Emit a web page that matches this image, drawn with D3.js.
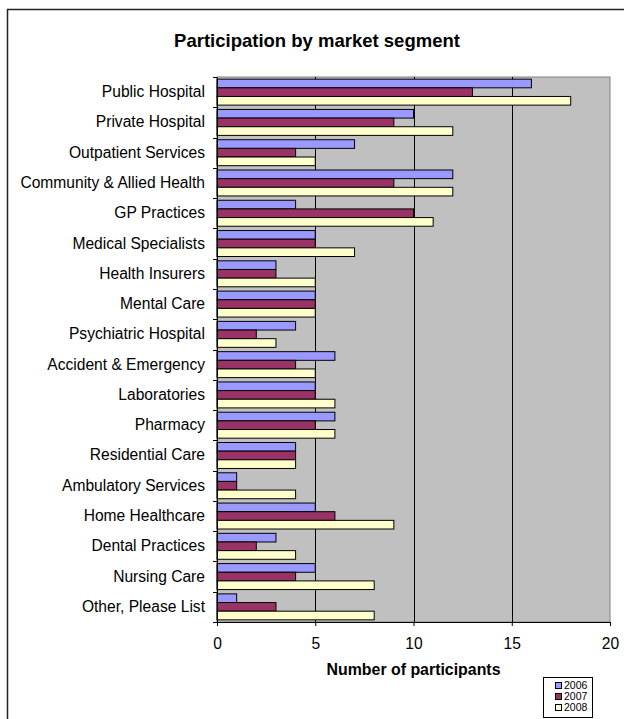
<!DOCTYPE html>
<html><head><meta charset="utf-8">
<script src="https://cdn.jsdelivr.net/npm/d3@7"></script>
<style>body{margin:0;background:#fff;}svg{display:block;font-family:"Liberation Sans",Arial,sans-serif;}</style>
</head><body>
<svg id="c" width="624" height="719"></svg>
<script>
const categories = ["Public Hospital","Private Hospital","Outpatient Services","Community & Allied Health","GP Practices","Medical Specialists","Health Insurers","Mental Care","Psychiatric Hospital","Accident & Emergency","Laboratories","Pharmacy","Residential Care","Ambulatory Services","Home Healthcare","Dental Practices","Nursing Care","Other, Please List"];
const seriesNames = ["2006","2007","2008"];
const values2006 = [16,10,7,12,4,5,3,5,4,6,5,6,4,1,5,3,5,1];
const values2007 = [13,9,4,9,10,5,3,5,2,4,5,5,4,1,6,2,4,3];
const values2008 = [18,12,5,12,11,7,5,5,3,5,6,6,4,4,9,4,8,8];
const xTicks = [0,5,10,15,20];
const colors = ["#9999FF","#993366","#FFFFCC"];
const series = [values2006, values2007, values2008];

const svg = d3.select("#c");
// outer chart border
svg.append("rect").attr("x",7.5).attr("y",9.5).attr("width",640).attr("height",730)
  .attr("fill","#fff").attr("stroke","#222").attr("stroke-width",1.5);

const L=217, R=610, T=77, B=622;
const x = d3.scaleLinear().domain([0,20]).range([L,R]);
const y = d3.scaleBand().domain(categories).range([T,B]);
const inner = d3.scaleBand().domain(seriesNames).range([0,y.bandwidth()]).paddingOuter(0.25).paddingInner(0);

svg.append("rect").attr("x",L).attr("y",T).attr("width",R-L).attr("height",B-T)
  .attr("fill","#C0C0C0").attr("stroke","#808080").attr("stroke-width",1);

// gridlines
svg.append("g").selectAll("line").data(xTicks.filter(d=>d>0&&d<20)).join("line")
  .attr("x1",d=>Math.round(x(d))+0.5).attr("x2",d=>Math.round(x(d))+0.5)
  .attr("y1",T).attr("y2",B).attr("stroke","#000").attr("stroke-width",1);

// bars
series.forEach((vals,si)=>{
  svg.append("g").selectAll("rect").data(vals).join("rect")
    .attr("x",x(0)).attr("y",(d,i)=>y(categories[i])+inner(seriesNames[si]))
    .attr("width",d=>x(d)-x(0)).attr("height",inner.bandwidth())
    .attr("fill",colors[si]).attr("stroke","#000").attr("stroke-width",1);
});

// y axis
const yAxis = d3.axisLeft(y).tickSize(0).tickPadding(12);
const gy = svg.append("g").attr("transform",`translate(${L},0)`).call(yAxis);
gy.select(".domain").attr("stroke","#000");
gy.selectAll("text").attr("font-size",15.6).attr("fill","#000").style("font-family","'Liberation Sans',Arial,sans-serif");
// category boundary ticks
const bounds = categories.map(c=>y(c)).concat([B]);
svg.append("g").selectAll("line").data(bounds).join("line")
  .attr("x1",L-4).attr("x2",L).attr("y1",d=>Math.round(d)+0.5).attr("y2",d=>Math.round(d)+0.5)
  .attr("stroke","#000");

// x axis
const xAxis = d3.axisBottom(x).tickValues(xTicks).tickSize(4).tickPadding(12);
const gx = svg.append("g").attr("transform",`translate(0,${B})`).call(xAxis);
gx.select(".domain").attr("stroke","#000");
gx.selectAll("text").attr("font-size",15.6).attr("fill","#000").style("font-family","'Liberation Sans',Arial,sans-serif");

// titles
svg.append("text").attr("x",317).attr("y",47).attr("text-anchor","middle")
  .attr("font-weight","bold").attr("font-size",18.5).text("Participation by market segment");
svg.append("text").attr("x",(L+R)/2).attr("y",675).attr("text-anchor","middle")
  .attr("font-weight","bold").attr("font-size",15.9).text("Number of participants");

// legend
const lg = svg.append("g").attr("transform","translate(543,677)");
lg.append("rect").attr("x",0.5).attr("y",0.5).attr("width",49).attr("height",40).attr("fill","#fff").attr("stroke","#000");
seriesNames.forEach((s,i)=>{
  lg.append("rect").attr("x",12.5).attr("y",5.5+i*11).attr("width",6).attr("height",6).attr("fill",colors[i]).attr("stroke","#000");
  lg.append("text").attr("x",21).attr("y",12+i*11).attr("font-size",10.5).text(s);
});
</script>
</body></html>
